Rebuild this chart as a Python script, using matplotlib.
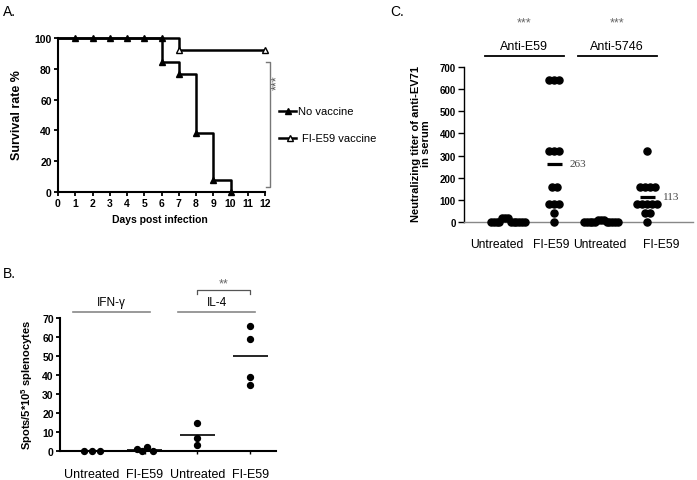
"""Three panel figure: survival after EV71 challenge, ELISpot counts and
neutralizing titers for untreated and FI-E59 vaccinated mice."""

import numpy as np
import matplotlib
matplotlib.use('Agg')
import matplotlib.pyplot as plt
from matplotlib.lines import Line2D

# ---- data, panel A (survival) ----
nv_days = [0, 1, 2, 3, 4, 5, 6, 6, 7, 8, 9, 10]
nv_surv = [100, 100, 100, 100, 100, 100, 100, 84.6, 76.9, 38.5, 7.7, 0]
fi_days = [0, 7, 12]
fi_surv = [100, 92.3, 92.3]
a_xticks = list(range(13))
a_yticks = [0, 20, 40, 60, 80, 100]
a_legend = ['No vaccine', 'FI-E59 vaccine']

# ---- data, panel B (spots per 5*10^5 splenocytes) ----
b_groups = ['Untreated', 'FI-E59', 'Untreated', 'FI-E59']
b_cytokines = ['IFN-γ', 'IL-4']
b_ifn_untreated = [0, 0, 0]
b_ifn_fie59 = [1, 0, 2, 0]
b_il4_untreated = [15, 7, 3]
b_il4_fie59 = [66, 59, 39, 35]
b_yticks = [0, 10, 20, 30, 40, 50, 60, 70]

# ---- data, panel C (neutralizing titers) ----
c_groups = ['Untreated', 'FI-E59', 'Untreated', 'FI-E59']
c_antisera = ['Anti-E59', 'Anti-5746']
c_e59_untreated = [0, 0, 0, 0, 20, 20, 20, 0, 0, 0, 0, 0, 0]
c_e59_fie59 = [640, 640, 640, 320, 320, 320, 160, 160, 80, 80, 80, 40, 0]
c_5746_untreated = [0, 0, 0, 0, 0, 10, 10, 10, 0, 0, 0, 0, 0]
c_5746_fie59 = [320, 160, 160, 160, 160, 80, 80, 80, 80, 80, 40, 40, 0]
c_mean_groups = [1, 3]
c_mean_values = [263, 113]
c_yticks = [0, 100, 200, 300, 400, 500, 600, 700]

W, H = 697, 481
plt.rcParams['font.family'] = ['Liberation Sans', 'DejaVu Sans']
plt.rcParams['mathtext.fontset'] = 'custom'
plt.rcParams['mathtext.rm'] = 'Liberation Sans'
plt.rcParams['mathtext.bf'] = 'Liberation Sans:bold'

fig = plt.figure(figsize=(W / 100, H / 100), dpi=100)


def px_rect(left, top, right, bottom):
    """Axes rectangle from pixel edges (origin top left)."""
    return [left / W, 1 - bottom / H, (right - left) / W, (bottom - top) / H]


def ftext(x, y, s, **kw):
    fig.text(x / W, 1 - y / H, s, **kw)


def fline(xs, ys, **kw):
    fig.add_artist(Line2D([x / W for x in xs], [1 - y / H for y in ys], **kw))


def row_offsets(values, tol, step, max_width):
    """Spread points of about the same value side by side (pixels)."""
    values = np.asarray(values, float)
    offsets = np.zeros(len(values))
    used = np.zeros(len(values), bool)
    for i in range(len(values)):
        if used[i]:
            continue
        row = [j for j in range(len(values)) if not used[j] and abs(values[j] - values[i]) <= tol]
        n = len(row)
        gap = step if n < 2 else min(step, max_width / (n - 1))
        for k, j in enumerate(row):
            offsets[j] = (k - (n - 1) / 2) * gap
            used[j] = True
    return offsets


# ================= panel A =================
axA = fig.add_axes(px_rect(58, 39, 265, 193))
axA.step(nv_days, nv_surv, where='post', color='black', lw=1.8, clip_on=False)
axA.step(fi_days, fi_surv, where='post', color='black', lw=1.8, clip_on=False)
axA.plot(nv_days[1:], nv_surv[1:], '^', color='black', ms=5, clip_on=False, zorder=4)
axA.plot(fi_days[1:], fi_surv[1:], '^', mfc='white', mec='black', mew=1, ms=5,
         clip_on=False, zorder=4)
axA.set_xlim(0, 12)
axA.set_ylim(0, 100)
axA.set_xticks(a_xticks)
axA.set_yticks(a_yticks)
for s in ['top', 'right']:
    axA.spines[s].set_visible(False)
for s in ['left', 'bottom']:
    axA.spines[s].set_linewidth(1.5)
axA.tick_params(length=3, width=1.3, pad=1.5, labelsize=7.5)
for lab in axA.get_xticklabels() + axA.get_yticklabels():
    lab.set_fontweight('bold')

ftext(17, 115, 'Survival rate %', rotation=90, ha='center', va='center',
      fontsize=9, fontweight='bold')
ftext(160, 220, 'Days post infection', ha='center', va='center',
      fontsize=7.5, fontweight='bold')
ftext(3, 12, 'A.', ha='left', va='center', fontsize=10)

# significance bracket
fline([266, 270, 270, 266], [63, 63, 188, 188], color='#777777', lw=1)
ftext(277, 83, '***', rotation=90, ha='center', va='center', fontsize=9, color='#555555')

# legend drawn by hand
fline([279, 296], [112, 112], color='black', lw=1.8)
fline([288], [112], marker='^', color='black', ms=5)
ftext(298, 112, a_legend[0], ha='left', va='center', fontsize=8)
fline([279, 296], [139, 139], color='black', lw=1.8)
fline([290], [139], marker='^', mfc='white', mec='black', mew=1, ms=5)
ftext(302, 139, a_legend[1], ha='left', va='center', fontsize=8)

# ================= panel B =================
axB = fig.add_axes(px_rect(60, 319, 276, 452))
b_values = [b_ifn_untreated, b_ifn_fie59, b_il4_untreated, b_il4_fie59]
b_px = 52.7  # pixels per category
for i, vals in enumerate(b_values):
    xs = i + 1 + row_offsets(vals, tol=3, step=8, max_width=16) / b_px
    axB.scatter(xs, vals, s=18, color='black', clip_on=False, zorder=3)
    axB.hlines(np.mean(vals), i + 1 - 0.33, i + 1 + 0.33, color='black', lw=1.2, zorder=2)
axB.set_xlim(0.393, 4.49)
axB.set_ylim(0, 70)
axB.set_yticks(b_yticks)
axB.set_xticks([1, 2, 3, 4])
axB.set_xticklabels(b_groups, fontsize=9)
for s in ['top', 'right']:
    axB.spines[s].set_visible(False)
for s in ['left', 'bottom']:
    axB.spines[s].set_linewidth(1.5)
axB.tick_params(axis='y', length=3, width=1.3, pad=1.5, labelsize=7.5)
axB.tick_params(axis='x', length=2, width=1, pad=10)
for lab in axB.get_yticklabels():
    lab.set_fontweight('bold')

trB = axB.get_xaxis_transform()
for k, name in enumerate(b_cytokines):
    x0, x1 = 2 * k + 1 - 0.36, 2 * k + 2 + 0.1
    axB.plot([x0, x1], [1.045, 1.045], transform=trB, color='#888888', lw=1.2, clip_on=False)
    axB.text((x0 + x1) / 2, 1.12, name, transform=trB, ha='center', va='center', fontsize=8.5)
axB.plot([3, 3, 4, 4], [1.18, 1.21, 1.21, 1.18], transform=trB, color='#555555', lw=0.9,
         clip_on=False)
axB.text(3.5, 1.26, '**', transform=trB, ha='center', va='center', fontsize=9, color='#666666')

ftext(27, 385, r'Spots/5*10$^{\mathbf{5}}$ splenocytes', rotation=90, ha='center',
      va='center', fontsize=8, fontweight='bold')
ftext(3, 274, 'B.', ha='left', va='center', fontsize=10)

# ================= panel C =================
axC = fig.add_axes(px_rect(464, 68, 693, 223))
c_values = [c_e59_untreated, c_e59_fie59, c_5746_untreated, c_5746_fie59]
c_px = 46.5  # pixels per category
for i, vals in enumerate(c_values):
    xs = i + 1 + row_offsets(vals, tol=25, step=5, max_width=34) / c_px
    axC.scatter(xs, vals, s=26, color='black', clip_on=False, zorder=3)
for g, m in zip(c_mean_groups, c_mean_values):
    axC.hlines(m, g + 1 - 0.17, g + 1 + 0.17, color='black', lw=2.3, zorder=4)
    axC.text(g + 1 + 0.33, m, str(m), ha='left', va='center', fontsize=8,
             family='Liberation Serif', color='#444444')
axC.set_xlim(0.054, 4.98)
axC.set_ylim(0, 700)
axC.set_yticks(c_yticks)
axC.set_xticks([1, 2, 3, 4])
axC.set_xticklabels([])
for s in ['top', 'right']:
    axC.spines[s].set_visible(False)
axC.spines['left'].set_linewidth(1)
axC.spines['bottom'].set_linewidth(1)
axC.spines['bottom'].set_color('#888888')
axC.tick_params(axis='y', length=4, width=1, pad=2, labelsize=7)
axC.tick_params(axis='x', length=0)
for lab in axC.get_yticklabels():
    lab.set_fontweight('bold')

# category labels sit a little off the dot columns in the original
c_label_shift = [-11, -3, -1, 14]  # pixels
for i, name in enumerate(c_groups):
    x = i + 1 + c_label_shift[i] / c_px
    axC.text(x, -0.145, name, transform=axC.get_xaxis_transform(), ha='center',
             va='center', fontsize=8.7)

trC = axC.get_xaxis_transform()
for k, name in enumerate(c_antisera):
    x0, x1 = 2 * k + 1 - 0.5, 2 * k + 2 + 0.2
    axC.plot([x0, x1], [1.071, 1.071], transform=trC, color='black', lw=1.3, clip_on=False)
    axC.text((x0 + x1) / 2, 1.135, name, transform=trC, ha='center', va='center', fontsize=9)
    axC.text((x0 + x1) / 2, 1.285, '***', transform=trC, ha='center', va='center',
             fontsize=9, color='#666666')

ftext(421, 144, 'Neutralizing titer of anti-EV71\nin serum', rotation=90, ha='center',
      va='center', fontsize=8, fontweight='bold', linespacing=1.0)
ftext(390, 12, 'C.', ha='left', va='center', fontsize=10)

fig.savefig('out.png', dpi=100)
